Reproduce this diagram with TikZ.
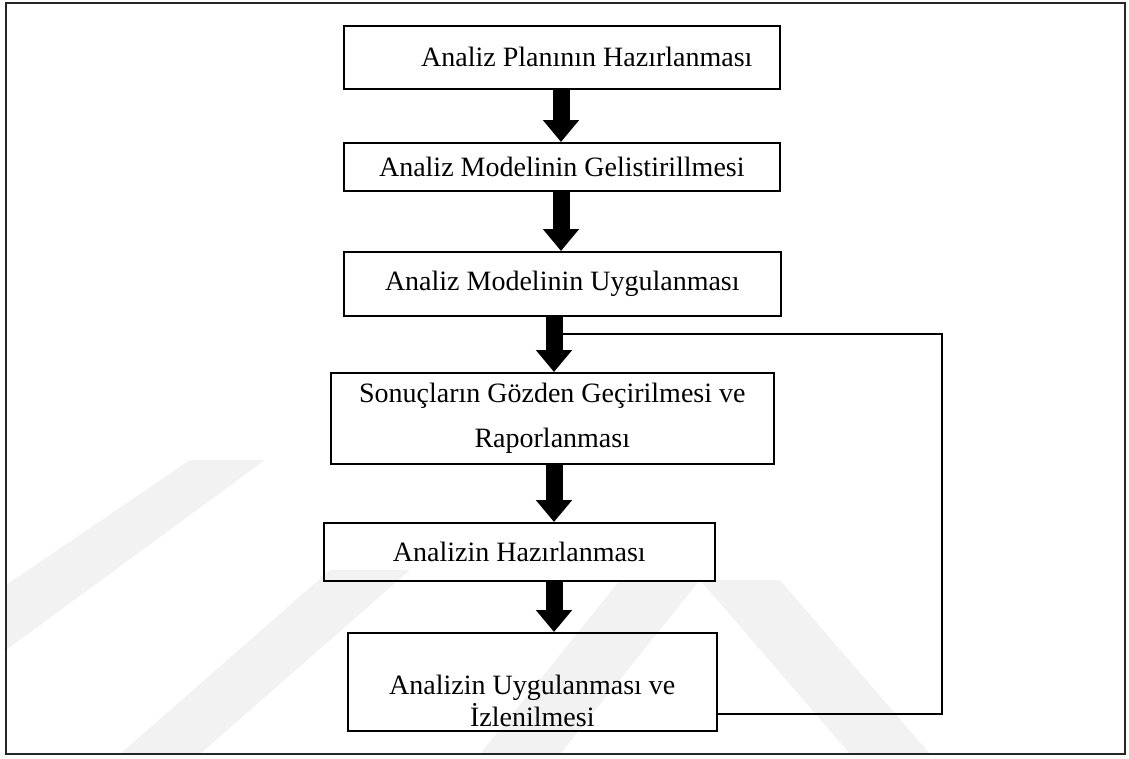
\documentclass[tikz,border=0pt]{standalone}
\usepackage{fontspec}
\setmainfont{Liberation Serif}
\usetikzlibrary{arrows.meta,calc}
\begin{document}
\begin{tikzpicture}[x=1pt,y=-1pt,
  box/.style={draw, line width=1.6pt, inner sep=0pt, anchor=north west, align=center,
    font=\fontsize{28}{32}\selectfont},
  boxfont/.style={font=\fontsize{28}{32}\selectfont},
  barrow/.style={line width=17pt, -{Triangle[width=35pt,length=22pt]}},
  fb/.style={line width=1.6pt},
  wm/.style={fill=black!5, draw=none},
  frame/.style={line width=1.8pt, draw=black!85}]
\useasboundingbox (0,0) rectangle (1129,758);
% faint watermark bands
\begin{scope}
\clip (7,4) rectangle (1124,753);
\fill[wm] (6,650) -- (6,585) -- (190,460) -- (265,460) -- cycle;
\fill[wm] (120,754) -- (200,754) -- (410,570) -- (330,570) -- cycle;
\fill[wm] (480,754) -- (560,754) -- (700,580) -- (620,580) -- cycle;
\fill[wm] (700,580) -- (780,580) -- (930,754) -- (850,754) -- cycle;
\end{scope}
\draw[frame] (6,3) rectangle (1125,754);
% boxes
\node[box, minimum width=436pt, minimum height=63pt,
  label={[xshift=25pt, boxfont]center:Analiz Planının Hazırlanması}] (b1) at (343,25) {};
\node[box, minimum width=436pt, minimum height=48pt] (b2) at (343,142) {Analiz Modelinin Gelistirillmesi};
\node[box, minimum width=437pt, minimum height=64pt] (b3) at (343,251) {Analiz Modelinin Uygulanması};
\node[box, minimum width=443pt, minimum height=91pt] (b4) at (330,372) {Sonuçların Gözden Geçirilmesi ve\\[13pt]Raporlanması};
\node[box, minimum width=391pt, minimum height=58pt] (b5) at (323,522) {Analizin Hazırlanması};
\node[box, minimum width=369pt, minimum height=98pt,
  label={[yshift=-19pt, align=center, boxfont]center:Analizin Uygulanması ve\\İzlenilmesi}] (b6) at (347,632) {};
% arrow axes
\coordinate (ax1) at (561,0);
\coordinate (ax2) at (554,0);
\coordinate (fbc) at (942,334);
% feedback
\draw[fb] ([yshift=-32pt]b6.east) -| (fbc) -- (fbc -| ax2);
% arrows
\draw[barrow] (b1.south -| ax1) -- (b2.north -| ax1);
\draw[barrow] (b2.south -| ax1) -- (b3.north -| ax1);
\draw[barrow] (b3.south -| ax2) -- (b4.north -| ax2);
\draw[barrow] (b4.south -| ax2) -- (b5.north -| ax2);
\draw[barrow] (b5.south -| ax2) -- (b6.north -| ax2);
\end{tikzpicture}
\end{document}
